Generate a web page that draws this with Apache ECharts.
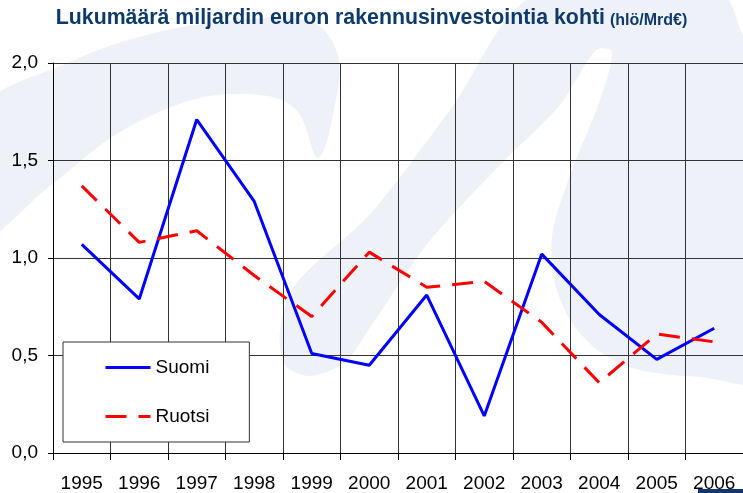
<!DOCTYPE html>
<html lang="fi">
<head>
    <meta charset="UTF-8">
    <title>Lukumäärä miljardin euron rakennusinvestointia kohti</title>
    <style type="text/css">
        html,body{margin:0;padding:0;background:#fff;}
        #chart{width:743px;height:493px;}
    </style>
</head>
<body>
<div id="chart"></div>

<script src="https://cdn.jsdelivr.net/npm/echarts@6/dist/echarts.min.js"></script>
<script type="text/javascript">
    // vuodet ja arvot (hlö/Mrd€)
    var years = ['1995', '1996', '1997', '1998', '1999', '2000', '2001', '2002', '2003', '2004', '2005', '2006'];
    var suomi = [1.07, 0.79, 1.71, 1.29, 0.51, 0.45, 0.81, 0.19, 1.02, 0.71, 0.48, 0.64];
    var ruotsi = [1.37, 1.08, 1.14, 0.91, 0.70, 1.03, 0.85, 0.88, 0.67, 0.36, 0.61, 0.57];
    var yTicks = [0, 0.5, 1.0, 1.5, 2.0];

    var font = "'Liberation Sans', Arial, sans-serif";
    var bgShape = '#eef1f7';

    var myChart = echarts.init(document.getElementById('chart'));

    var option = {
        backgroundColor: '#fff',
        animation: false,
        textStyle: {fontFamily: font},
        title: {
            text: '{a|Lukumäärä miljardin euron rakennusinvestointia kohti} {b|(hlö/Mrd€)}',
            left: 'center',
            top: 8,
            padding: 0,
            textStyle: {
                rich: {
                    a: {fontSize: 21.3, fontWeight: 'bold', color: '#0d3a6b', fontFamily: font},
                    b: {fontSize: 16, fontWeight: 'bold', color: '#0d3a6b', fontFamily: font, verticalAlign: 'bottom'}
                }
            }
        },
        // vaalea taustakuvio (logo)
        graphic: [
            {
                type: 'polygon', z: -10, silent: true,
                shape: {
                    smooth: 0.35,
                    points: [[-20, 112], [70, 62], [150, 34], [240, 20], [312, 22], [338, 55], [334, 110], [318, 158],
                             [298, 112], [268, 96], [200, 98], [120, 132], [50, 186], [-20, 238]]
                },
                style: {fill: bgShape}
            },
            {
                type: 'polygon', z: -10, silent: true,
                shape: {
                    smooth: 0.3,
                    points: [[535, -5], [722, -5], [745, 38], [765, 45], [765, 378], [700, 377], [640, 370], [600, 352],
                             [570, 320], [553, 275], [553, 230], [572, 170], [600, 100], [612, 52], [596, 50], [560, 105],
                             [500, 165], [428, 243], [371, 326], [345, 362], [310, 376], [285, 365], [280, 330],
                             [295, 285], [371, 213], [450, 110]]
                },
                style: {fill: bgShape}
            },
            {
                type: 'rect', z: -5, silent: true,
                shape: {x: 698, y: 489, width: 50, height: 6},
                style: {fill: '#0d3a6b'}
            }
        ],
        grid: {
            left: 53,
            right: -10,
            top: 63,
            bottom: 39
        },
        legend: {
            orient: 'vertical',
            left: 63,
            top: 342,
            padding: [16, 40, 16, 41],
            itemWidth: 45,
            itemHeight: 18,
            itemGap: 30,
            backgroundColor: '#fff',
            borderColor: '#333',
            borderWidth: 1,
            itemStyle: {opacity: 0, color: 'transparent', borderWidth: 0},
            lineStyle: {width: 3},
            textStyle: {fontSize: 19, color: '#000', fontFamily: font},
            data: ['Suomi', 'Ruotsi']
        },
        xAxis: {
            type: 'category',
            data: years,
            boundaryGap: true,
            axisLine: {lineStyle: {color: '#000', width: 1}},
            axisTick: {show: true, length: 7, lineStyle: {color: '#000'}},
            axisLabel: {fontSize: 19, color: '#000', margin: 21, interval: 0, fontFamily: font},
            splitLine: {show: true, interval: 0, lineStyle: {color: '#333', width: 1}}
        },
        yAxis: {
            type: 'value',
            min: yTicks[0],
            max: yTicks[yTicks.length - 1],
            interval: 0.5,
            axisLine: {show: true, lineStyle: {color: '#000', width: 1}},
            axisTick: {show: true, length: 5, lineStyle: {color: '#000'}},
            axisLabel: {
                fontSize: 19, color: '#000', margin: 15, fontFamily: font,
                formatter: function (v) { return v.toFixed(1).replace('.', ','); }
            },
            splitLine: {show: true, lineStyle: {color: '#333', width: 1}}
        },
        series: [
            {
                name: 'Suomi',
                type: 'line',
                data: suomi,
                symbol: 'none',
                lineStyle: {color: '#0000ff', width: 3},
                itemStyle: {color: '#0000ff'}
            },
            {
                name: 'Ruotsi',
                type: 'line',
                data: ruotsi,
                symbol: 'none',
                lineStyle: {color: '#ff0000', width: 3, type: [21, 12]},
                itemStyle: {color: '#ff0000'}
            }
        ]
    };

    myChart.setOption(option);
</script>
</body>
</html>
